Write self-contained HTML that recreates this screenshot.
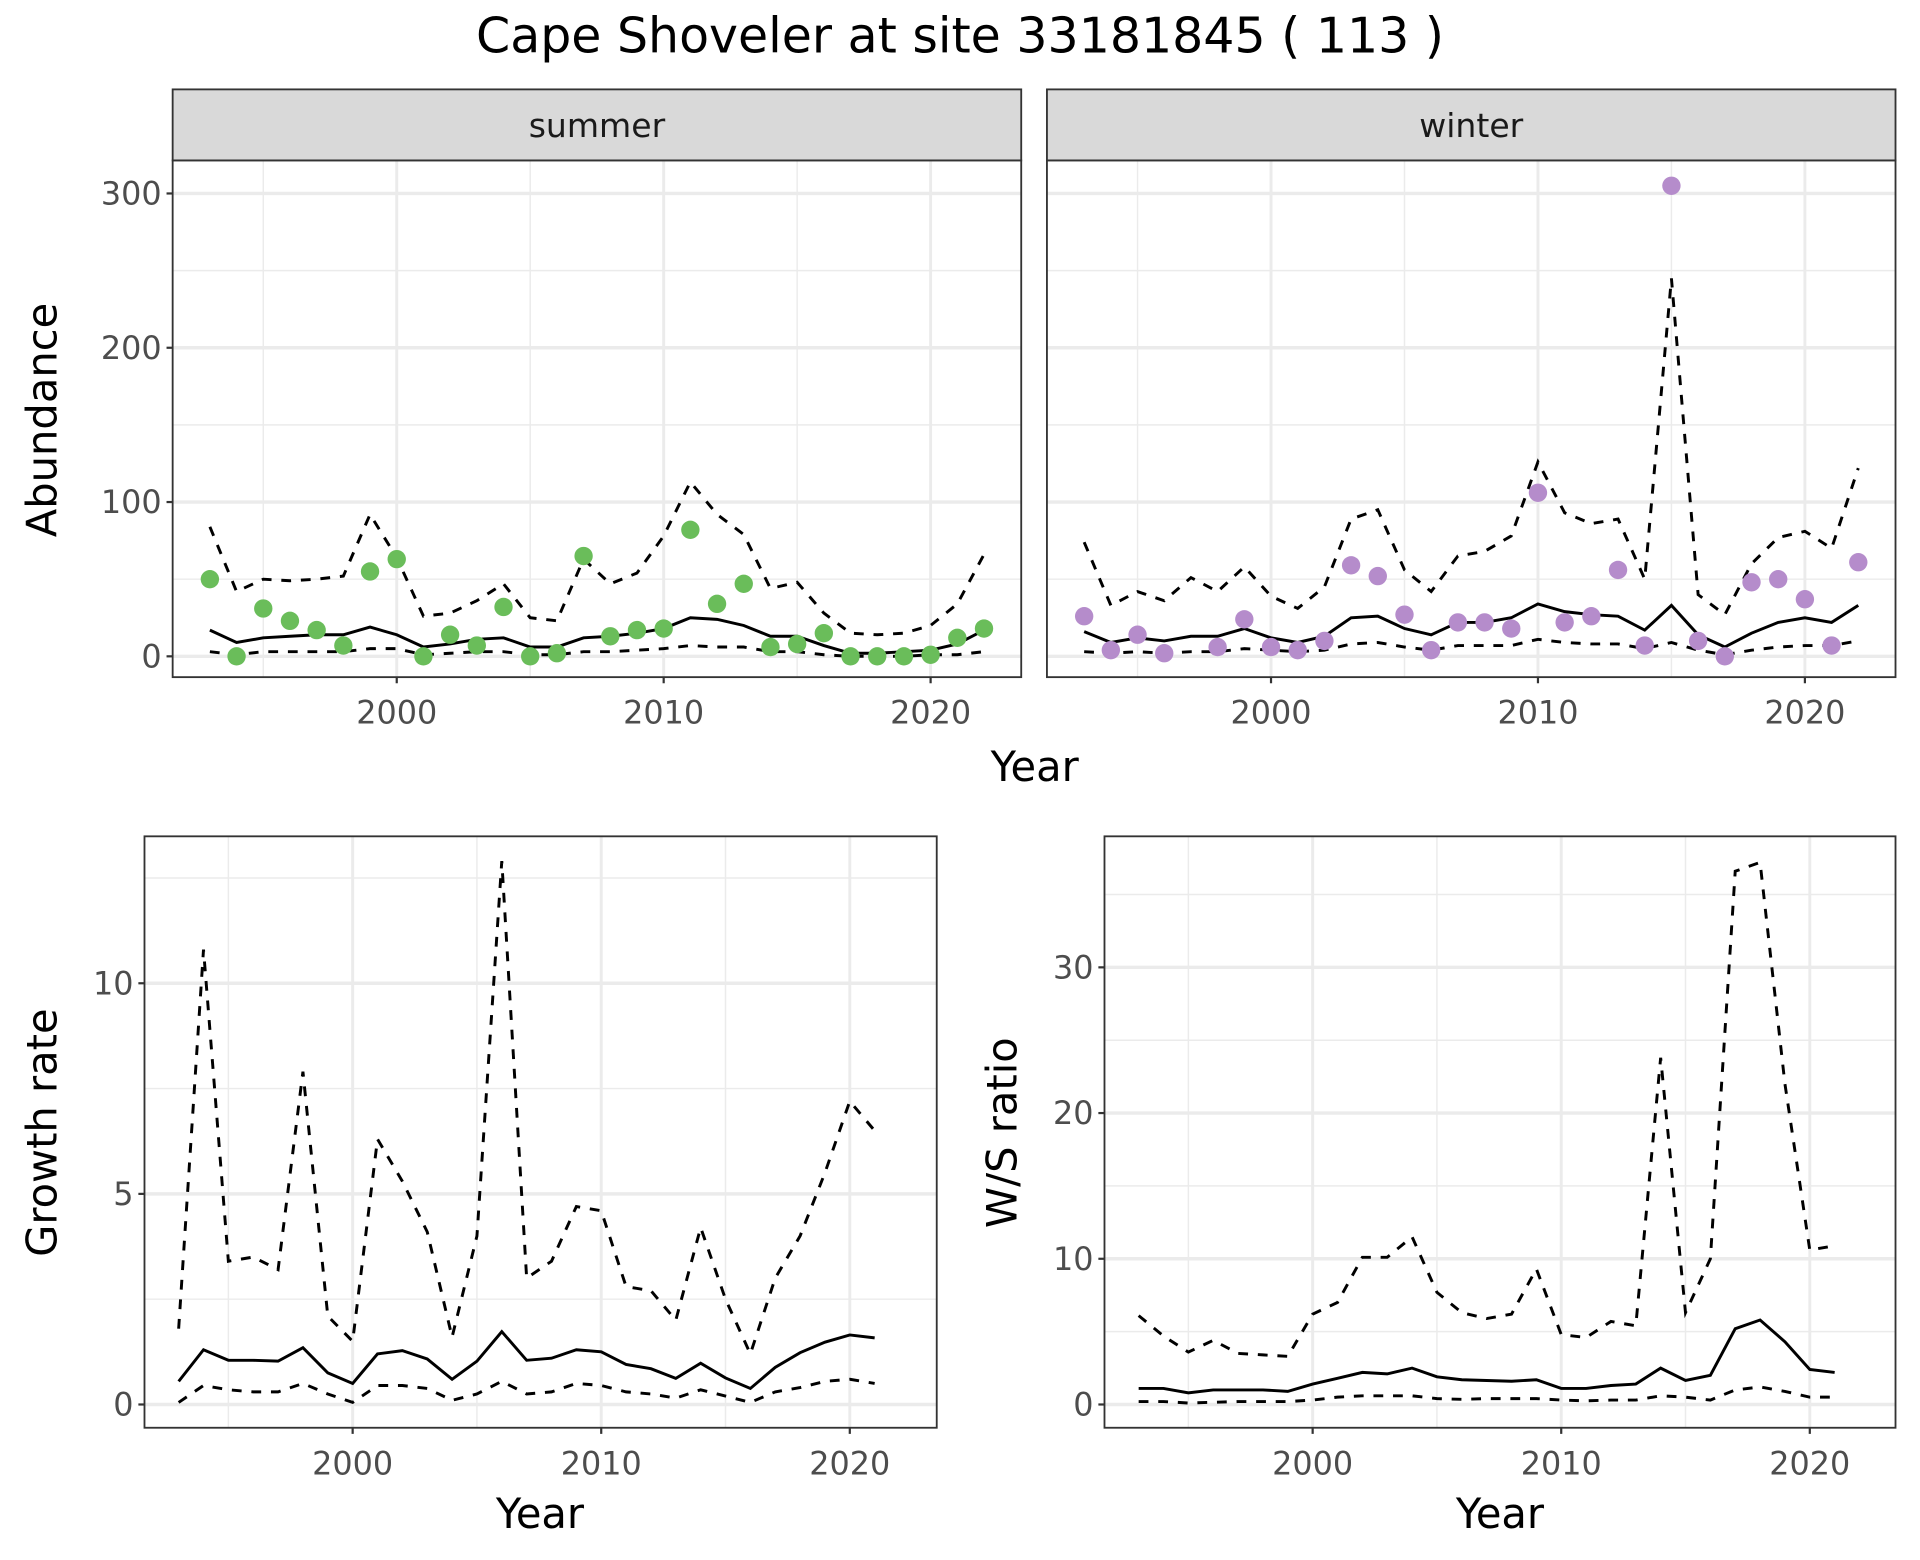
<!DOCTYPE html>
<html><head><meta charset="utf-8"><style>
html,body{margin:0;padding:0;background:#fff;}
svg{display:block;font-family:"DejaVu Sans","Liberation Sans",sans-serif;}
</style></head><body>
<svg id="chart" width="1920" height="1560" viewBox="0 0 1568 1274" preserveAspectRatio="none" xmlns="http://www.w3.org/2000/svg">
<rect x="0" y="0" width="1568" height="1274" fill="#fff"/>
<text x="784" y="43" text-anchor="middle" font-size="40" fill="#000">Cape Shoveler at site 33181845 ( 113 )</text>
</svg>
<script>
const years = [1993,1994,1995,1996,1997,1998,1999,2000,2001,2002,2003,2004,2005,2006,2007,2008,2009,2010,2011,2012,2013,2014,2015,2016,2017,2018,2019,2020,2021,2022];
const summerObs = [50,0,31,23,17,7,55,63,0,14,7,32,0,2,65,13,17,18,82,34,47,6,8,15,0,0,0,1,12,18];
const summerMean = [17,9,12,13,14,14,19,14,6,8,11,12,6,6,12,13,15,18,25,24,20,13,13,7,2,2,3,4,8,17];
const summerUpper = [84,42,50,49,50,52,92,64,26,28,36,47,25,23,63,47,54,78,113,92,79,44,48,28,15,14,15,20,34,66];
const summerLower = [3,1,3,3,3,3,5,5,1,2,3,3,1,1,3,3,4,5,7,6,6,3,3,1,0,0,0,1,1,3];
const winterObs = [26,4,14,2,null,6,24,6,4,10,59,52,27,4,22,22,18,106,22,26,56,7,305,10,0,48,50,37,7,61];
const winterMean = [16,9,12,10,13,13,18,12,9,13,25,26,18,14,22,22,25,34,29,27,26,17,33,14,6,15,22,25,22,33];
const winterUpper = [74,33,42,36,51,42,58,39,31,45,89,95,56,42,65,68,78,126,93,86,89,50,245,40,27,60,77,81,70,122];
const winterLower = [3,2,3,2,3,3,5,4,3,4,8,9,6,4,7,7,7,11,9,8,8,5,9,4,1,4,6,7,7,10];
const rateYears = [1993,1994,1995,1996,1997,1998,1999,2000,2001,2002,2003,2004,2005,2006,2007,2008,2009,2010,2011,2012,2013,2014,2015,2016,2017,2018,2019,2020,2021];
const growthMean = [0.55,1.3,1.05,1.05,1.03,1.35,0.75,0.5,1.2,1.28,1.08,0.6,1.03,1.73,1.05,1.1,1.3,1.25,0.95,0.85,0.62,0.98,0.63,0.38,0.88,1.23,1.48,1.65,1.58];
const growthUpper = [1.8,10.8,3.4,3.5,3.2,7.9,2.1,1.5,6.3,5.3,4.1,1.6,4.0,12.9,3.0,3.4,4.7,4.6,2.8,2.7,2.0,4.2,2.5,1.2,3.0,4.0,5.5,7.2,6.5];
const growthLower = [0.05,0.45,0.35,0.3,0.3,0.5,0.25,0.05,0.45,0.45,0.38,0.1,0.25,0.55,0.25,0.3,0.5,0.45,0.3,0.25,0.15,0.35,0.2,0.05,0.3,0.4,0.55,0.6,0.5];
const ratioMean = [1.1,1.1,0.8,1.0,1.0,1.0,0.9,1.4,1.8,2.2,2.1,2.5,1.9,1.7,1.65,1.6,1.7,1.1,1.1,1.3,1.4,2.5,1.65,2.0,5.2,5.8,4.3,2.4,2.2];
const ratioUpper = [6.1,4.7,3.6,4.4,3.5,3.4,3.3,6.2,7.0,10.1,10.1,11.5,7.7,6.3,5.9,6.2,9.3,4.8,4.6,5.7,5.4,23.8,6.3,10.0,36.6,37.2,22,10.6,10.9];
const ratioLower = [0.2,0.2,0.1,0.15,0.2,0.2,0.2,0.3,0.5,0.6,0.6,0.6,0.4,0.35,0.4,0.4,0.4,0.3,0.25,0.3,0.3,0.6,0.5,0.3,1.0,1.2,0.9,0.5,0.5];
const xTicks = [2000,2010,2020];
const abundTicks = [0,100,200,300];
const growthTicks = [0,5,10];
const ratioTicks = [0,10,20,30];

const svg = document.getElementById('chart');
const NS = 'http://www.w3.org/2000/svg';
function mk(tag, attrs, parent){
  const e = document.createElementNS(NS, tag);
  for (const k in attrs) e.setAttribute(k, attrs[k]);
  (parent||svg).appendChild(e);
  return e;
}
function lin(d0,d1,r0,r1){ return v => r0 + (v-d0)*(r1-r0)/(d1-d0); }

function panel(cfg){
  const g = mk('g', {});
  
  
  const {x0,x1,y0,y1,xs,ys} = cfg;
  cfg.xMinor.forEach(v => { mk('line',{x1:xs(v),x2:xs(v),y1:y0,y2:y1,stroke:'#ebebeb','stroke-width':1.2},g); });
  cfg.yMinor.forEach(v => { mk('line',{x1:x0,x2:x1,y1:ys(v),y2:ys(v),stroke:'#ebebeb','stroke-width':1.2},g); });
  xTicks.forEach(v => { mk('line',{x1:xs(v),x2:xs(v),y1:y0,y2:y1,stroke:'#ebebeb','stroke-width':2.4},g); });
  cfg.yTicks.forEach(v => { mk('line',{x1:x0,x2:x1,y1:ys(v),y2:ys(v),stroke:'#ebebeb','stroke-width':2.8},g); });
  function path(xv, yv, dash, name){
    let d = '';
    xv.forEach((x,i)=>{ d += (i?'L':'M') + xs(x).toFixed(1) + ',' + ys(yv[i]).toFixed(1); });
    const p = mk('path',{d:d,fill:'none',stroke:'#000','stroke-width':2.4,'stroke-dasharray':dash?'8,8':'none'},g);
    
    
  }
  path(cfg.xv, cfg.upper, true, 'upper-bound-line');
  path(cfg.xv, cfg.lower, true, 'lower-bound-line');
  path(cfg.xv, cfg.mean, false, 'mean-line');
  if (cfg.obs) cfg.obs.forEach((v,i)=>{
    if (v===null) return;
    const c = mk('circle',{cx:xs(cfg.xv[i]),cy:ys(v),r:7.5,fill:cfg.color},g);
    
    
  });
  mk('rect',{x:x0,y:y0,width:x1-x0,height:y1-y0,fill:'none',stroke:'#333','stroke-width':1.5},g);
  xTicks.forEach(v => {
    mk('line',{x1:xs(v),x2:xs(v),y1:y1,y2:y1+5,stroke:'#333','stroke-width':1.8},g);
    const t = mk('text',{x:xs(v),y:y1+38,'text-anchor':'middle','font-size':26,fill:'#4d4d4d'},g);
    t.textContent = v;
    
    
  });
  if (cfg.yLabels) cfg.yTicks.forEach(v => {
    mk('line',{x1:x0-5,x2:x0,y1:ys(v),y2:ys(v),stroke:'#333','stroke-width':1.8},g);
    const t = mk('text',{x:x0-9,y:ys(v)+9,'text-anchor':'end','font-size':26,fill:'#4d4d4d'},g);
    t.textContent = v;
    
    
  });
  if (cfg.strip){
    const r = mk('rect',{x:x0,y:73,width:x1-x0,height:y0-73,fill:'#d9d9d9',stroke:'#333','stroke-width':1.5},g);
    
    
    const t = mk('text',{x:(x0+x1)/2,y:112,'text-anchor':'middle','font-size':27,fill:'#1a1a1a'},g);
    t.textContent = cfg.strip;
    
    
  }
}

const aY = lin(0,300,536,158);
panel({name:'summer-panel',x0:141,x1:834,y0:131,y1:553,xs:lin(2000,2020,324,760),ys:aY,xMinor:[1995,2005,2015],yMinor:[50,150,250],yTicks:abundTicks,yLabels:true,xv:years,mean:summerMean,upper:summerUpper,lower:summerLower,obs:summerObs,color:'#6abd5a',strip:'summer'});
panel({name:'winter-panel',x0:855,x1:1548,y0:131,y1:553,xs:lin(2000,2020,1038,1474),ys:aY,xMinor:[1995,2005,2015],yMinor:[50,150,250],yTicks:abundTicks,yLabels:false,xv:years,mean:winterMean,upper:winterUpper,lower:winterLower,obs:winterObs,color:'#b58ccb',strip:'winter'});
panel({name:'growth-rate-panel',x0:118,x1:765,y0:683,y1:1166,xs:lin(2000,2020,288,694),ys:lin(0,10,1147,803),xMinor:[1995,2005,2015],yMinor:[2.5,7.5,12.5],yTicks:growthTicks,yLabels:true,xv:rateYears,mean:growthMean,upper:growthUpper,lower:growthLower});
panel({name:'ws-ratio-panel',x0:902,x1:1548,y0:683,y1:1166,xs:lin(2000,2020,1072,1478),ys:lin(0,30,1147,790),xMinor:[1995,2005,2015],yMinor:[5,15,25,35],yTicks:ratioTicks,yLabels:true,xv:rateYears,mean:ratioMean,upper:ratioUpper,lower:ratioLower});

function label(txt,x,y,rot,name){
  const t = mk('text',{x:x,y:y,'text-anchor':'middle','font-size':34,fill:'#000'});
  if (rot) t.setAttribute('transform','rotate(-90 '+x+' '+y+')');
  t.textContent = txt;
  
  
}
label('Year',845,638,false,'top-x-axis-title');
label('Abundance',46,343,true,'abundance-y-axis-title');
label('Year',441,1248,false,'growth-x-axis-title');
label('Growth rate',46,925,true,'growth-y-axis-title');
label('Year',1225,1248,false,'ratio-x-axis-title');
label('W/S ratio',830,925,true,'ratio-y-axis-title');
</script>
</body></html>
